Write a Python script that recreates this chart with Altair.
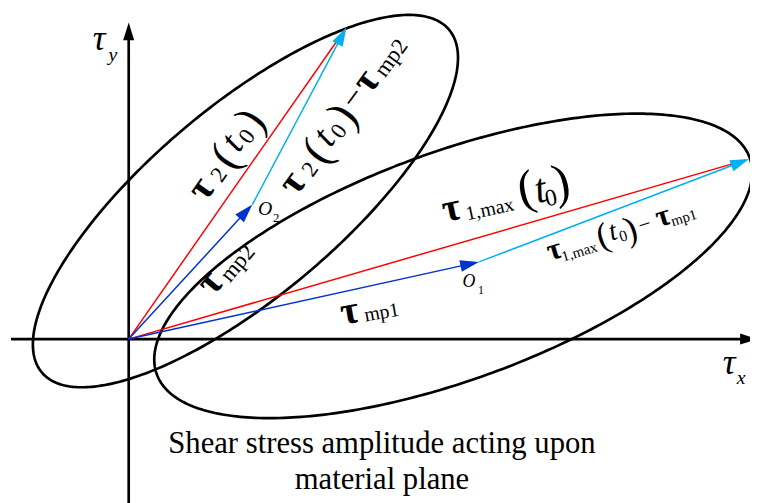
import math
import numpy as np
import pandas as pd
import altair as alt

# ---------------- data (tau-plane units, origin at the axes' crossing) ----------------
vec_name = ["tau2(t0)", "tau_mp2", "tau2(t0)-tau_mp2", "tau1max(t0)", "tau_mp1", "tau1max(t0)-tau_mp1"]
vec_x0 = [0, 0, 125, 0, 0, 354]
vec_y0 = [0, 0, 136, 0, 0, 78]
vec_x1 = [220, 125, 220, 627, 354, 627]
vec_y1 = [315, 136, 315, 182, 78, 182]
vec_color = ["#ff0000", "#0033cc", "#00b0f0", "#ff0000", "#0033cc", "#00b0f0"]
vec_head = [False, True, True, False, True, True]

ell_name = ["path 2", "path 1"]
ell_cx = [118, 328]
ell_cy = [139.5, 74]
ell_a = [269, 319]
ell_b = [96, 115]
ell_theta = [40.1, 20.1]

axis_x_range = [-119, 636]
axis_y_range = [-170, 320]

title_lines = ["Shear stress amplitude acting upon", "material plane"]

# ---------------- derived tables ----------------
rows = []
for n, cx, cy, a, b, th in zip(ell_name, ell_cx, ell_cy, ell_a, ell_b, ell_theta):
    t = np.linspace(0, 2 * np.pi, 361)
    c, s = math.cos(math.radians(th)), math.sin(math.radians(th))
    xs = cx + a * np.cos(t) * c - b * np.sin(t) * s
    ys = cy + a * np.cos(t) * s + b * np.sin(t) * c
    for i, (xx, yy) in enumerate(zip(xs, ys)):
        rows.append({"name": n, "i": i, "x": xx, "y": yy})
ell_df = pd.DataFrame(rows)

HEAD_LEN = 19
vrows, hrows = [], []
for n, x0, y0, x1, y1, col, hd in zip(vec_name, vec_x0, vec_y0, vec_x1, vec_y1, vec_color, vec_head):
    L = math.hypot(x1 - x0, y1 - y0)
    ux, uy = (x1 - x0) / L, (y1 - y0) / L
    cut = HEAD_LEN * 0.6 if hd else 4
    vrows.append({"name": n, "x": x0, "y": y0, "x2": x1 - ux * cut, "y2": y1 - uy * cut, "color": col})
    if hd:
        phi = math.degrees(math.atan2(y1 - y0, x1 - x0))
        hrows.append({"x": x1, "y": y1, "angle": (90 - phi) % 360, "color": col, "size": HEAD_LEN ** 2})
vec_df = pd.DataFrame(vrows)

axes_df = pd.DataFrame([
    {"x": axis_x_range[0], "y": 0, "x2": axis_x_range[1] - 10, "y2": 0},
    {"x": 0, "y": axis_y_range[0], "x2": 0, "y2": axis_y_range[1] - 10},
])
hrows.append({"x": axis_x_range[1], "y": 0, "angle": 90, "color": "#000000", "size": 18 ** 2})
hrows.append({"x": 0, "y": axis_y_range[1], "angle": 0, "color": "#000000", "size": 18 ** 2})
head_df = pd.DataFrame(hrows)


def label(c0, phi, items):
    u = (math.cos(math.radians(phi)), math.sin(math.radians(phi)))
    nv = (-u[1], u[0])
    out = []
    for txt, s, p, size, w, st in items:
        out.append({"text": txt, "x": c0[0] + s * u[0] + p * nv[0], "y": c0[1] + s * u[1] + p * nv[1],
                    "size": size, "angle": (360 - phi) % 360, "w": w, "st": st})
    return out


B, N, I = "bold", "normal", "italic"
txt = []
txt += label((73, 152), 55, [("τ", 0, 0, 40, B, N), ("2", 22, -7, 23, N, N), ("(", 40, -2, 46, N, N),
                             ("t", 56, 0, 38, N, I), ("0", 70, -8, 23, N, N), (")", 86, -2, 46, N, N)])
txt += label((165, 158), 54, [("τ", 0, 0, 40, B, N), ("2", 22, -7, 23, N, N), ("(", 40, -2, 46, N, N),
                              ("t", 56, 0, 38, N, I), ("0", 70, -8, 23, N, N), (")", 86, -2, 46, N, N),
                              ("−", 106, 0, 34, N, N), ("τ", 127, 0, 40, B, N), ("mp2", 161, -7, 23, N, N)])
txt += label((82, 57), 50, [("τ", 0, 0, 40, B, N), ("mp2", 33, -9, 23, N, N)])
txt += label((326, 132), 12, [("τ", 0, 0, 40, B, N), ("1,max", 38, -9, 20, N, N), ("(", 78, 3, 50, N, N),
                              ("t", 92, 0, 42, N, I), ("0", 101, -11, 24, N, N), (")", 114, 2, 50, N, N)])
txt += label((430, 90), 17, [("τ", 0, 0, 31, B, N), ("1,max", 24, -9, 15, N, N), ("(", 51, -1, 36, N, N),
                             ("t", 62, 0, 28, N, I), ("0", 71, -7, 16, N, N), (")", 80, -3, 36, N, N),
                             ("−", 95, -2, 22, N, N), ("τ", 115, 0, 31, B, N), ("mp1", 135, -7, 15, N, N)])
txt += label((223, 28), 10, [("τ", 0, 0, 40, B, N), ("mp1", 32, -7, 20, N, N)])
txt += label((138, 131), 0, [("O", 0, 0, 20, N, I)]) + label((149, 122), 0, [("2", 0, 0, 13, N, N)])
txt += label((344, 58), 0, [("O", 0, 0, 18, N, I)]) + label((356, 50), 0, [("1", 0, 0, 12, N, N)])
txt += label((-30, 303), 0, [("τ", 0, 0, 36, N, I)]) + label((-16, 287), 0, [("y", 0, 0, 20, N, I)])
txt += label((607, -24), 0, [("τ", 0, 0, 36, N, I)]) + label((619, -39), 0, [("x", 0, 0, 20, N, I)])
txt_df = pd.DataFrame(txt)

title_df = pd.DataFrame({"text": title_lines, "x": [256, 256], "y": [-115, -152]})

# ---------------- chart ----------------
X = alt.X("x:Q", scale=alt.Scale(domain=[-122, 628], nice=False, zero=False), axis=None)
Y = alt.Y("y:Q", scale=alt.Scale(domain=[-163, 332], nice=False, zero=False), axis=None)

ellipses = alt.Chart(ell_df).mark_line(color="black", strokeWidth=2.7).encode(
    x=X, y=Y, detail="name:N", order="i:Q")

axes = alt.Chart(axes_df).mark_rule(color="black", strokeWidth=2.7).encode(
    x=X, y=Y, x2="x2:Q", y2="y2:Q")

vectors = alt.Chart(vec_df).mark_rule(strokeWidth=1.5).encode(
    x=X, y=Y, x2="x2:Q", y2="y2:Q", color=alt.Color("color:N", scale=None))

heads = alt.Chart(head_df).mark_point(
    shape="M0,0L-0.62,2L0.62,2Z", filled=True, opacity=1, strokeOpacity=0).encode(
    x=X, y=Y, angle=alt.Angle("angle:Q", scale=None), size=alt.Size("size:Q", scale=None),
    color=alt.Color("color:N", scale=None))

text_layers = []
for w in [N, B]:
    for st in [N, I]:
        sub = txt_df[(txt_df.w == w) & (txt_df.st == st)]
        if len(sub) == 0:
            continue
        text_layers.append(alt.Chart(sub).mark_text(
            font="Liberation Serif", fontWeight=w, fontStyle=st, align="center", baseline="middle",
            color="black").encode(
            x=X, y=Y, text="text:N", size=alt.Size("size:Q", scale=None),
            angle=alt.Angle("angle:Q", scale=None)))

title = alt.Chart(title_df).mark_text(
    font="Liberation Serif", fontSize=31, align="center", baseline="alphabetic", color="black").encode(
    x=X, y=Y, text="text:N")

chart = alt.layer(ellipses, axes, vectors, heads, *text_layers, title).properties(
    width=750, height=495, padding=0, autosize="none").configure_view(stroke=None)

chart.save("out.html", embed_options={"renderer": "svg", "actions": False})
